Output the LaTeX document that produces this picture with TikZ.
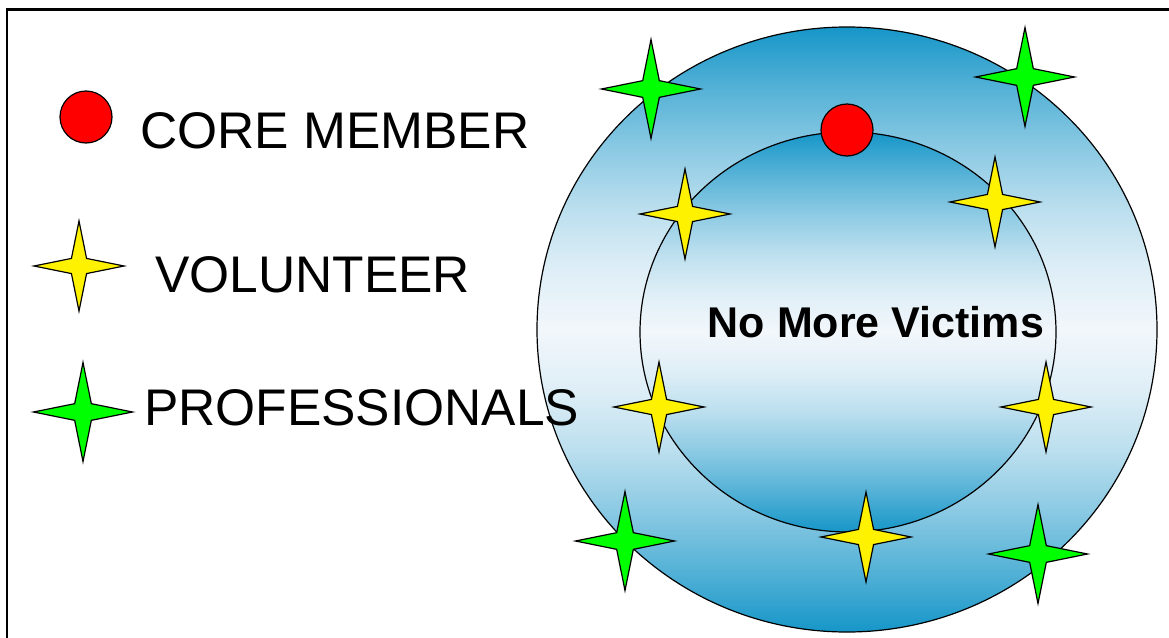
\documentclass[tikz,border=0pt]{standalone}
\usepackage{fontspec}
\setmainfont{Liberation Sans}
\usepackage{tikz}
\usetikzlibrary{shapes.geometric}
\definecolor{ringblue}{RGB}{22,150,200}
\definecolor{ringwhite}{RGB}{242,247,251}
% blue - white - blue, softer towards the middle
\pgfdeclareverticalshading{ringshade}{100bp}{color(0bp)=(ringblue); color(25bp)=(ringblue);
  color(30bp)=(ringblue!72!ringwhite); color(35bp)=(ringblue!47!ringwhite);
  color(40bp)=(ringblue!25!ringwhite); color(45bp)=(ringblue!9!ringwhite);
  color(50bp)=(ringwhite);
  color(55bp)=(ringblue!9!ringwhite); color(60bp)=(ringblue!25!ringwhite);
  color(65bp)=(ringblue!47!ringwhite); color(70bp)=(ringblue!72!ringwhite);
  color(75bp)=(ringblue); color(100bp)=(ringblue)}
\tikzset{
  star4/.style={draw=black, line width=1.2pt, shape=star, star points=4, star point ratio=4.2, inner sep=0pt},
  greenstar/.style={star4, fill=green, minimum size=99pt},
  yellowstar/.style={star4, fill=yellow, minimum size=90pt},
  reddot/.style={draw=black, line width=1.2pt, fill=red, shape=circle, inner sep=0pt, minimum size=52pt},
  legendtext/.style={anchor=base west, inner sep=0pt, font=\fontsize{51.5}{60}\selectfont},
  ring/.style={draw=black, line width=1.2pt, shading=ringshade}
}
\begin{document}
\begin{tikzpicture}[x=1pt,y=-1pt]
        \useasboundingbox (0,0) rectangle (1169,637);
        \clip (0,0) rectangle (1169,637);
        % frame
        \draw[line width=2.5pt] (7,9.5) rectangle (1200,700);
        % rings
        \path[ring] (847,329.5) ellipse [x radius=310pt, y radius=302.5pt];
        \path[ring] (848,332) ellipse [x radius=208pt, y radius=200pt];
        \node[inner sep=0pt, anchor=base, font=\bfseries\fontsize{43}{50}\selectfont] (title) at (876,337) {No More Victims};
        % core member
        \node[reddot] (core) at (847,130) {};
        % Professionals
        \node[greenstar] (pro1) at (651,89) {};
        \node[greenstar] (pro2) at (1025,77) {};
        \node[greenstar] (pro3) at (625,541) {};
        \node[greenstar] (pro4) at (1038,554) {};
        % Volunteers
        \node[yellowstar] (vol1) at (685,214) {};
        \node[yellowstar] (vol2) at (995,202) {};
        \node[yellowstar] (vol3) at (659,407) {};
        \node[yellowstar] (vol4) at (1046,407) {};
        \node[yellowstar] (vol5) at (866,537) {};
        % Legende
        \node[reddot] (keycore) at (86,117) {};
        \node[yellowstar] (keyvol) at (79,266) {};
        \node[greenstar] (keypro) at (83,412) {};
        \node[legendtext] (txtcore) at (140,148) {CORE MEMBER};
        \node[legendtext] (txtvol) at (155,292) {VOLUNTEER};
        \node[legendtext] (txtpro) at (144,425) {PROFESSIONALS};
\end{tikzpicture}
\end{document}
